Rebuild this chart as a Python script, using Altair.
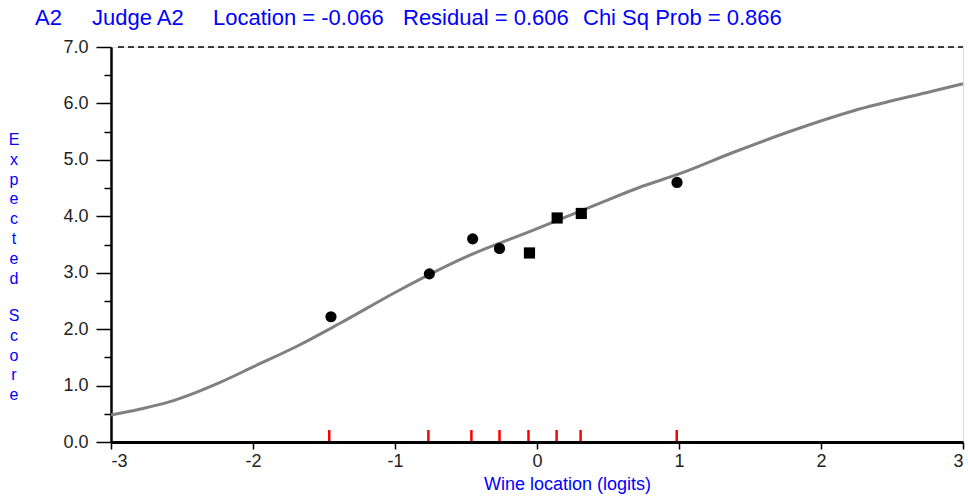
import altair as alt
import pandas as pd

# ---- data ----
curve_x = [-3.0, -2.8, -2.59, -2.4, -2.22, -2.0, -1.68, -1.39, -0.97, -0.50, -0.03, 0.44, 0.72, 1.00, 1.38, 1.80, 2.23, 2.79, 3.0]
curve_y = [0.48, 0.58, 0.71, 0.88, 1.07, 1.33, 1.71, 2.10, 2.69, 3.28, 3.75, 4.23, 4.51, 4.75, 5.13, 5.52, 5.87, 6.22, 6.35]

obs_x = [-1.451, -0.758, -0.453, -0.264, -0.053, 0.142, 0.312, 0.986]
obs_y = [2.22, 2.98, 3.60, 3.43, 3.35, 3.97, 4.05, 4.60]
obs_shape = ["circle", "circle", "circle", "circle", "square", "square", "square", "circle"]

item_x = [-1.463, -0.765, -0.462, -0.264, -0.060, 0.138, 0.307, 0.984]

title_parts = ["A2", "Judge A2", "Location = -0.066", "Residual = 0.606", "Chi Sq Prob = 0.866"]
x_title = "Wine location (logits)"
y_title_words = ["Expected", "Score"]
x_ticks = [-3, -2, -1, 0, 1, 2, 3]
y_ticks = [0, 1, 2, 3, 4, 5, 6, 7]
y_minor = [0.5, 1.5, 2.5, 3.5, 4.5, 5.5, 6.5]

FONT = "Liberation Sans, Arial, sans-serif"
BLUE = "#0000ff"
W, H = 852, 395
LEFT, TOP = 111, 47

curve = pd.DataFrame({"x": curve_x, "y": curve_y})
obs = pd.DataFrame({"x": obs_x, "y": obs_y, "shape": obs_shape})
items = pd.DataFrame({"x": item_x})
one = pd.DataFrame({"a": [0]})

xscale = alt.Scale(domain=[-3, 3], nice=False, zero=False)
yscale = alt.Scale(domain=[0, 7], nice=False, zero=False)

xaxis = alt.Axis(values=x_ticks, labelExpr="datum.value", title=x_title, titleColor=BLUE,
                 titleFont=FONT, titleFontSize=18, titleFontWeight="normal", titlePadding=5, titleX=456,
                 labelFont=FONT, labelFontSize=18, labelColor="#222", labelPadding=3,
                 tickSize=7, tickColor="#000", tickWidth=1.5, domainColor="#000", domainWidth=3, grid=False)

yaxis = alt.Axis(values=y_ticks, format=".1f", title=None,
                 labelFont=FONT, labelFontSize=18, labelColor="#222", labelPadding=8,
                 tickSize=15, tickColor="#000", tickWidth=1.5, domainColor="#000", domainWidth=2.5, grid=False)

yaxis_minor = alt.Axis(values=y_minor, labels=False, title=None, orient="left", tickSize=7,
                       tickColor="#000", tickWidth=1.5, domain=False, grid=False)

X = alt.X("x:Q", scale=xscale, axis=xaxis)

line = alt.Chart(curve).mark_line(color="#808080", strokeWidth=3, interpolate="monotone").encode(
    x=X,
    y=alt.Y("y:Q", scale=yscale, axis=yaxis),
)

minor = alt.Chart(curve).mark_point(opacity=0).encode(
    x=X,
    y=alt.Y("y:Q", scale=yscale, axis=yaxis_minor),
)

top = alt.Chart(one).mark_rule(color="#000", strokeWidth=1.5, strokeDash=[6, 4]).encode(
    x=alt.value(7), x2=alt.value(W), y=alt.value(0)
)

rules = alt.Chart(items).mark_rule(color="#ff0000", strokeWidth=2.5).encode(
    x=X,
    y=alt.value(H - 12), y2=alt.value(H - 1),
)

pts = alt.Chart(obs).mark_point(filled=True, color="#000", opacity=1, size=125).encode(
    x=X,
    y=alt.Y("y:Q", scale=yscale, axis=None),
    shape=alt.Shape("shape:N", scale=alt.Scale(domain=["circle", "square"], range=["circle", "square"]), legend=None),
)

title_x = [35, 92, 213, 403, 583]
title_layers = [
    alt.Chart(one).mark_text(text=t, align="left", baseline="middle", font=FONT, fontSize=22, color=BLUE)
    .encode(x=alt.value(px - LEFT), y=alt.value(18 - TOP))
    for t, px in zip(title_parts, title_x)
]

ytitle_y = [140, 316]
ytitle_layers = [
    alt.Chart(one).mark_text(text=list(w), align="center", baseline="middle", font=FONT, fontSize=16,
                             lineHeight=19.8, color=BLUE)
    .encode(x=alt.value(14 - LEFT), y=alt.value(py - TOP))
    for w, py in zip(y_title_words, ytitle_y)
]

chart = alt.layer(line, minor, top, rules, pts, *title_layers, *ytitle_layers).resolve_axis(y="independent").properties(
    width=W, height=H, autosize=alt.AutoSizeParams(type="none"),
    padding={"left": LEFT, "top": TOP, "right": 5, "bottom": 58},
).configure_view(stroke=None).configure(background="white")

chart.save("out.html", embed_options={"renderer": "svg", "actions": False})
